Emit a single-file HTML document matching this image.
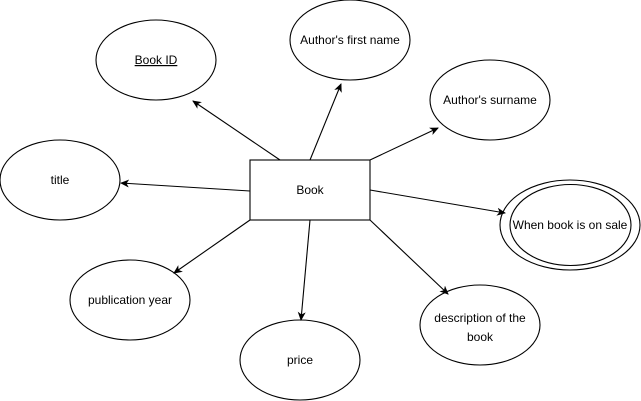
<!DOCTYPE html>
<html><head><meta charset="utf-8"><style>
html,body{margin:0;padding:0;background:#fff;}
svg{display:block;}
text{font-family:"Liberation Sans",Helvetica,Arial,sans-serif;font-size:12px;fill:#000;}
</style></head><body>
<svg width="641" height="401" viewBox="0 0 641 401" xmlns="http://www.w3.org/2000/svg">
<defs>
<marker id="a" markerWidth="10" markerHeight="10" refX="8" refY="5" orient="auto" markerUnits="userSpaceOnUse">
<path d="M0,1 L9,5 L0,9 L2.5,5 Z" fill="#000"/>
</marker>
</defs>
<g fill="#fff" stroke="#000" stroke-width="1.1">
<ellipse cx="156" cy="60" rx="60" ry="40"/>
<ellipse cx="350" cy="40" rx="60" ry="40"/>
<ellipse cx="490" cy="100" rx="60" ry="40"/>
<ellipse cx="60" cy="180" rx="60" ry="40"/>
<ellipse cx="570" cy="225" rx="70" ry="45"/>
<ellipse cx="570.5" cy="225" rx="60.5" ry="40.5"/>
<ellipse cx="130" cy="300" rx="60" ry="40"/>
<ellipse cx="300" cy="360" rx="60" ry="40"/>
<ellipse cx="480" cy="325" rx="60" ry="40"/>
<rect x="250" y="160" width="120" height="60"/>
</g>
<g stroke="#000" stroke-width="1.1" fill="none" marker-end="url(#a)">
<line x1="280" y1="160" x2="193" y2="101"/>
<line x1="310" y1="160" x2="341" y2="84"/>
<line x1="370" y1="160" x2="438" y2="128"/>
<line x1="250" y1="191" x2="121" y2="183"/>
<line x1="370" y1="190" x2="505" y2="213"/>
<line x1="250" y1="220" x2="174" y2="273"/>
<line x1="310" y1="220" x2="301" y2="320"/>
<line x1="370" y1="220" x2="448" y2="294"/>
</g>
<g text-anchor="middle">
<text x="156" y="64" text-decoration="underline">Book ID</text>
<text x="350" y="44">Author's first name</text>
<text x="490" y="104">Author's surname</text>
<text x="60" y="184">title</text>
<text x="310" y="194">Book</text>
<text x="570" y="229">When book is on sale</text>
<text x="130" y="304">publication year</text>
<text x="300" y="364">price</text>
<text x="480" y="322">description of the</text>
<text x="480" y="341">book</text>
</g>
</svg>
</body></html>
